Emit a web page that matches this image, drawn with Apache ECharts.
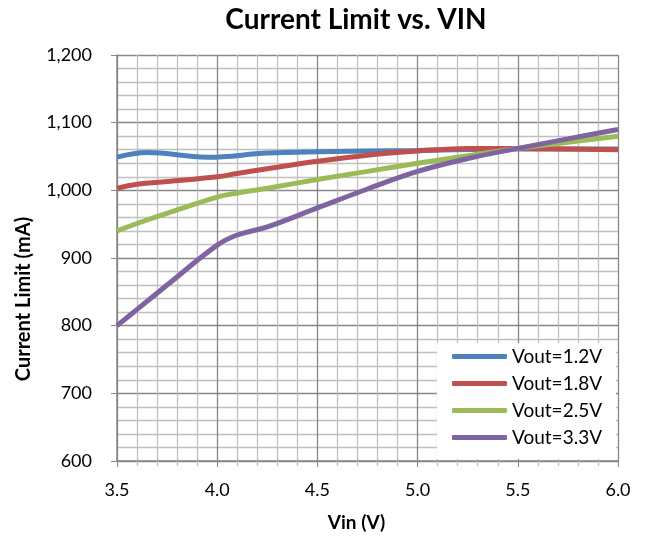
<!DOCTYPE html>
<html><head><meta charset="utf-8">
<script src="https://cdn.jsdelivr.net/npm/echarts@6/dist/echarts.min.js"></script>
<style>html,body{margin:0;padding:0;background:#fff}#c{width:645px;height:536px}</style>
</head><body><div id="c"></div>
<script>
const names = ['Vout=1.2V', 'Vout=1.8V', 'Vout=2.5V', 'Vout=3.3V'];
const vin12 = [3.5, 3.65, 3.95, 4.25, 4.5, 5.0, 5.5, 6.0];
const vout12 = [1049, 1056, 1049, 1055, 1057, 1059, 1061, 1061];
const vin = [3.5, 3.6, 3.75, 4.0, 4.1, 4.25, 4.5, 4.75, 5.0, 5.25, 5.5, 5.75, 6.0];
const vout18 = [1003, 1009, 1013, 1020, 1025, 1032, 1043, 1052, 1058, 1062, 1062, 1061, 1060];
const vout25 = [940, 951, 966, 990, 996, 1003, 1016, 1028, 1040, 1051, 1062, 1071, 1080];
const vout33 = [800, 824, 860, 919, 934, 946, 974, 1002, 1028, 1047, 1062, 1076, 1090];
const colors = ['#4F81BD', '#C0504D', '#9BBB59', '#8064A2'];
const xs = [vin12, vin, vin, vin];
const allVals = [vout12, vout18, vout25, vout33];

const font = 'Lato, "Open Sans", sans-serif';
const chart = echarts.init(document.getElementById('c'));
const major = '#878787', minor = '#c0c0c0';
chart.setOption({
  animation: false,
  color: colors,
  title: { text: 'Current Limit vs. VIN', left: 356, top: 6, padding: 0, textAlign: 'center',
    textStyle: { fontFamily: font, fontSize: 28, fontWeight: 'bold', color: '#000' } },
  grid: { left: 117, right: 27, top: 55, bottom: 75, containLabel: false, outerBoundsMode: 'none' },
  legend: {
    orient: 'vertical', left: 437, top: 343, backgroundColor: '#fff',
    padding: [4, 14, 12, 15], itemGap: 8, itemWidth: 55, itemHeight: 5,
    icon: 'roundRect',
    textStyle: { fontFamily: font, fontSize: 19, color: '#000' },
    data: names
  },
  xAxis: [{
    type: 'value', min: 3.5, max: 6.0, interval: 0.5,
    name: 'Vin (V)', nameLocation: 'middle', nameGap: 52,
    nameTextStyle: { fontFamily: font, fontSize: 19, fontWeight: 'bold', color: '#000', padding: [0, 22, 0, 0] },
    axisLine: { lineStyle: { color: major, width: 1.5 } },
    axisTick: { show: true, length: 6, lineStyle: { color: major } },
    axisLabel: { fontFamily: font, fontSize: 18, color: '#000', margin: 20, formatter: v => v.toFixed(1) },
    splitLine: { show: true, lineStyle: { color: major, width: 1.3 } },
    minorSplitLine: { show: true, lineStyle: { color: minor, width: 1.3 } },
    minorTick: { show: false, splitNumber: 5 }
  }, {
    type: 'value', min: 3.5, max: 6.0, interval: 0.5, position: 'bottom', z: 10,
    axisLine: { show: false }, axisLabel: { show: false },
    axisTick: { show: false }, splitLine: { show: false },
    minorTick: { show: true, splitNumber: 5, length: 5, lineStyle: { color: minor, width: 1.3 } }
  }],
  yAxis: {
    type: 'value', min: 600, max: 1200, interval: 100,
    name: 'Current Limit (mA)', nameLocation: 'middle', nameGap: 83,
    nameTextStyle: { fontFamily: font, fontSize: 20, fontWeight: 'bold', color: '#000', padding: [0, 82, 0, 0] },
    axisLine: { show: true, lineStyle: { color: major, width: 1.5 } },
    axisTick: { show: true, length: 6, lineStyle: { color: major } },
    axisLabel: { fontFamily: font, fontSize: 18, color: '#000', margin: 25,
      formatter: v => v.toLocaleString('en-US') },
    splitLine: { show: true, lineStyle: { color: major, width: 1.3 } },
    minorSplitLine: { show: true, lineStyle: { color: minor, width: 1.3 } },
    minorTick: { show: false, splitNumber: 5 }
  },
  series: names.map((n, i) => ({
    name: n, type: 'line', smooth: 0.4, showSymbol: false, symbol: 'none',
    lineStyle: { width: 5, color: colors[i] },
    data: xs[i].map((x, j) => [x, allVals[i][j]])
  }))
});
</script></body></html>
